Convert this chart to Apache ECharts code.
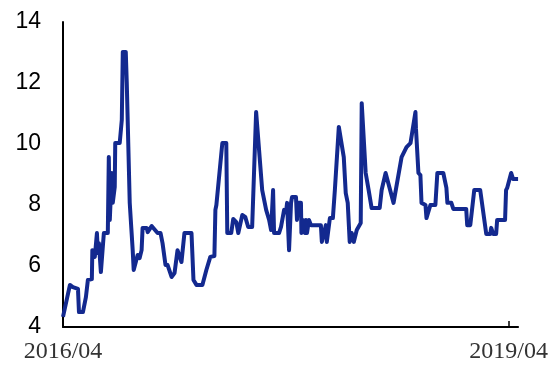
<!DOCTYPE html>
<html>
<head>
<meta charset="utf-8">
<script src="https://cdn.jsdelivr.net/npm/echarts@6/dist/echarts.min.js"></script>
<style>html,body{margin:0;padding:0;background:#fff}#c{width:551px;height:365px}</style>
</head>
<body>
<div id="c"></div>
<script>
// months elapsed since 2016/04
const months = [0,0.56,0.80,1.21,1.29,1.61,1.85,2.01,2.33,2.37,2.41,2.57,2.74,2.82,2.90,3.06,3.22,3.30,3.62,3.70,3.78,3.94,4.02,4.18,4.22,4.58,4.75,4.83,5.07,5.15,5.23,5.39,5.55,5.63,5.71,5.87,6.03,6.19,6.35,6.43,6.76,6.84,7.16,7.32,7.64,7.88,8.04,8.28,8.45,8.77,9.01,9.25,9.57,9.81,10.38,10.54,10.78,11.26,11.58,11.90,12.23,12.31,12.39,12.87,13.19,13.27,13.59,13.75,14.00,14.16,14.48,14.72,14.96,15.28,15.60,15.76,16.09,16.41,16.65,16.81,16.97,17.05,17.45,17.61,17.86,18.02,18.10,18.26,18.42,18.50,18.82,18.90,18.98,19.22,19.26,19.38,19.54,19.62,19.71,19.87,20.03,20.83,20.91,21.23,21.31,21.56,21.80,21.96,22.12,22.28,22.44,22.68,22.84,23.00,23.16,23.32,23.49,23.73,24.05,24.13,24.29,24.45,24.61,24.69,24.85,24.93,25.58,25.74,25.90,26.06,26.22,26.70,27.35,27.75,28.07,28.47,28.51,28.63,28.71,28.87,28.96,29.28,29.36,29.52,29.68,30.08,30.24,30.72,30.97,31.05,31.37,31.53,32.57,32.65,32.90,33.22,33.70,34.19,34.51,34.59,34.75,34.99,35.07,35.71,35.79,35.88,36.20,36.36,36.76];
const values = [4.33,5.38,5.31,5.25,4.49,4.49,4.98,5.54,5.57,6.52,6.52,6.30,7.08,6.43,6.75,5.80,5.80,7.08,7.08,9.57,7.51,9.05,8.07,8.59,10.03,10.03,10.79,13.02,13.02,12.02,12.02,8.07,8.07,6.52,5.87,5.87,6.36,6.26,6.52,7.25,7.25,7.11,7.31,7.31,7.08,7.08,6.75,6.03,6.03,5.64,5.77,6.52,6.13,7.08,7.08,5.54,5.38,5.38,5.87,6.30,6.33,7.84,8.00,10.03,10.03,7.08,7.08,7.54,7.44,7.08,7.67,7.61,7.28,7.28,11.05,11.05,8.49,7.84,7.51,7.18,8.49,7.08,7.08,7.28,7.84,7.77,8.07,6.52,8.07,8.26,8.26,7.51,8.07,8.07,7.08,7.51,7.08,7.51,7.08,7.51,7.34,7.34,6.79,7.34,6.79,7.57,7.57,8.49,8.49,10.56,10.56,9.57,8.39,8.07,6.79,7.08,6.79,7.18,7.41,11.34,11.34,9.05,9.05,8.49,8.49,7.90,7.90,8.49,8.49,9.05,9.05,8.07,9.57,9.90,10.03,11.05,10.52,10.52,9.05,8.98,8.07,8.00,7.57,7.57,8.00,8.00,9.05,9.05,8.56,8.07,8.07,7.87,7.87,7.34,7.34,8.49,8.49,7.05,7.05,7.25,7.05,7.05,7.51,7.51,8.49,8.56,9.05,8.85,8.85];
const xLabelValues = [0, 36];
const xLabels = ['2016/04', '2019/04'];

const data = months.map((m, i) => [m, values[i]]);
const chart = echarts.init(document.getElementById('c'), null, {renderer: 'canvas'});
chart.setOption({
  animation: false,
  grid: {left: 63, right: 31, top: 22, bottom: 38, containLabel: false},
  xAxis: {
    type: 'value', min: 0, max: months[months.length - 1],
    axisLine: {show: true, lineStyle: {color: '#000', width: 2}},
    axisTick: {show: true, inside: true, length: 6, customValues: xLabelValues, lineStyle: {color: '#000', width: 1.5}},
    axisLabel: {
      customValues: xLabelValues, margin: 13,
      fontFamily: 'Liberation Serif', fontSize: 24, color: '#333',
      formatter: v => { const i = xLabelValues.indexOf(v); return i >= 0 ? xLabels[i] : ''; }
    },
    splitLine: {show: false}
  },
  yAxis: {
    type: 'value', min: 4, max: 14, interval: 2,
    axisLine: {show: true, lineStyle: {color: '#000', width: 2}},
    axisTick: {show: false},
    axisLabel: {margin: 22, fontFamily: 'Liberation Sans', fontSize: 23, color: '#000'},
    splitLine: {show: false}
  },
  series: [{
    type: 'line', data: data, showSymbol: false,
    lineStyle: {color: '#13298f', width: 4, join: 'round'},
    itemStyle: {color: '#13298f'}
  }]
});
</script>
</body>
</html>
